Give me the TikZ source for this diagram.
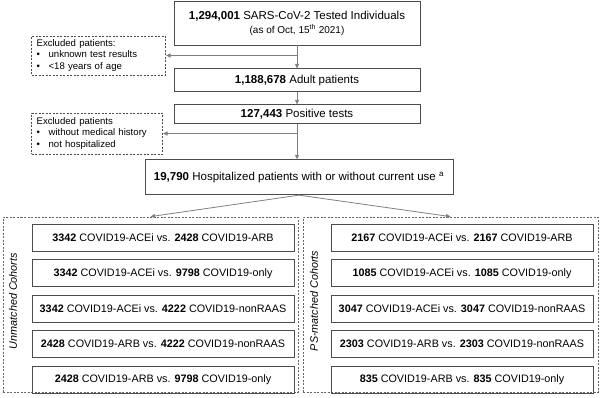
\documentclass[tikz,border=0pt]{standalone}
\usepackage{fontspec}
\setmainfont{Liberation Sans}
\usetikzlibrary{positioning, arrows.meta}

\newcommand{\itm}{\makebox[12pt][l]{\textbullet}}

\begin{document}
\begin{tikzpicture}[x=1pt, y=-1pt,
  main/.style={draw=black!70, line width=0.9pt, minimum width=246pt, align=center,
               inner sep=2pt, font=\fontsize{11.5}{14}\selectfont},
  excl/.style={draw=black!70, dash pattern=on 2pt off 1.5pt, line width=0.8pt,
                text width=124pt, inner xsep=5pt, inner ysep=3pt, align=left,
                font=\fontsize{9.6}{11.5}\selectfont},
  cohort/.style={draw=black!70, line width=0.9pt, minimum width=262pt, minimum height=27pt,
                 inner sep=1pt, font=\fontsize{10.8}{12}\selectfont},
  grp/.style={draw=black!60, dash pattern=on 2pt off 1.5pt, line width=0.8pt,
              minimum width=295pt, minimum height=175pt},
  side/.style={rotate=90, font=\fontsize{10.8}{12}\selectfont\itshape},
  arr/.style={-{Triangle[length=4.5pt, width=4pt]}, draw=black!50, line width=0.8pt},
]
\useasboundingbox (0,0) rectangle (600,397);

% Main flow
\node[main, minimum height=44pt] (n1) at (297,23)
  {\textbf{1,294,001} SARS-CoV-2 Tested Individuals\\
   {\fontsize{10}{12}\selectfont (as of Oct, 15\textsuperscript{th} 2021)}};
\node[main, minimum height=23pt, below=23pt of n1] (n2) {\textbf{1,188,678} Adult patients};
\node[main, minimum height=19pt, below=12pt of n2] (n3) {\textbf{127,443} Positive tests};
\node[main, minimum width=308pt, minimum height=35pt, below=35pt of n3, xshift=2pt] (n4)
  {\textbf{19,790} Hospitalized patients with or without current use \textsuperscript{a}};

% Exclusions
\node[excl, minimum height=39pt, anchor=east] (ex1) at (166,55.5)
  {Excluded patients:\\ \itm unknown test results\\ \itm \textless18 years of age};
\node[excl, minimum height=41pt, text width=121pt, anchor=east] (ex2) at (163,133.5)
  {Excluded patients\\ \itm without medical history\\ \itm not hospitalized};

% Cohort groups
\node[grp] (g1) at (150.5,304.5) {};
\node[grp] (g2) at (450.5,304.5) {};
\node[side] (lab1) at (13,301) {Unmatched Cohorts};
\node[side] (lab2) at (314,301) {PS-matched Cohorts};

% Unmatched cohorts
\node[cohort] (r1) at (163,238) {\textbf{3342} COVID19-ACEi vs. \textbf{2428} COVID19-ARB};
\node[cohort, below=7.5pt of r1] (r2) {\textbf{3342} COVID19-ACEi vs. \textbf{9798} COVID19-only};
\node[cohort, below=7.5pt of r2] (r3) {\textbf{3342} COVID19-ACEi vs. \textbf{4222} COVID19-nonRAAS};
\node[cohort, below=7.5pt of r3] (r4) {\textbf{2428} COVID19-ARB vs. \textbf{4222} COVID19-nonRAAS};
\node[cohort, below=7.5pt of r4] (r5) {\textbf{2428} COVID19-ARB vs. \textbf{9798} COVID19-only};

% PS-matched cohorts
\node[cohort] (q1) at (462,238) {\textbf{2167} COVID19-ACEi vs. \textbf{2167} COVID19-ARB};
\node[cohort, below=7.5pt of q1] (q2) {\textbf{1085} COVID19-ACEi vs. \textbf{1085} COVID19-only};
\node[cohort, below=7.5pt of q2] (q3) {\textbf{3047} COVID19-ACEi vs. \textbf{3047} COVID19-nonRAAS};
\node[cohort, below=7.5pt of q3] (q4) {\textbf{2303} COVID19-ARB vs. \textbf{2303} COVID19-nonRAAS};
\node[cohort, below=7.5pt of q4] (q5) {\textbf{835} COVID19-ARB vs. \textbf{835} COVID19-only};

% Arrows
\coordinate (b1) at (n1.south |- ex1.east);
\coordinate (b2) at (n1.south |- ex2.east);
\draw[arr] (n1.south) -- (n2.north);
\draw[arr] (n2.south) -- (n3.north);
\draw[arr] (n3.south) -- (n4.north -| n3.south);
\draw[arr] (b1) -- (ex1.east);
\draw[arr] (b2) -- (ex2.east);
\draw[arr] (n4.south) -- (g1.north);
\draw[arr] (n4.south) -- (g2.north);

\end{tikzpicture}
\end{document}
